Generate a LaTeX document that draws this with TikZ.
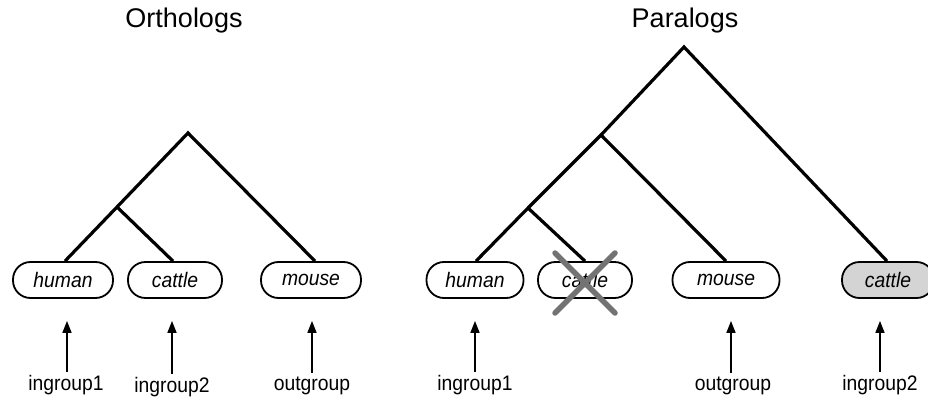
\documentclass[tikz,border=0pt]{standalone}
\usepackage{fontspec}
\setmainfont{Liberation Sans}
\newfontfamily\narrowsans[FakeStretch=0.92]{Liberation Sans}
\usetikzlibrary{arrows.meta}
\begin{document}
\begin{tikzpicture}[x=1pt,y=-1pt,
  branch/.style={line width=3.2pt, line join=miter},
  leaf/.style={draw, line width=1.8pt, rounded corners=17.5pt, minimum height=36pt,
    inner sep=0pt, font=\narrowsans\fontsize{21}{24}\selectfont\itshape},
  grouplabel/.style={font=\narrowsans\fontsize{21}{24}\selectfont, inner sep=0pt, anchor=base},
  heading/.style={font=\fontsize{27}{30}\selectfont, inner sep=0pt, anchor=base},
  pointer/.style={line width=1.6pt, -{Triangle[length=12pt,width=9pt]},
    shorten <=3pt, shorten >=22pt},
  strike/.style={line width=5.5pt, draw=black!55, line cap=round}]
\useasboundingbox (0,0) rectangle (928,401);

% headings
\node[heading] (tO) at (184,28) {Orthologs};
\node[heading] (tP) at (685,28) {Paralogs};

% ---- orthologs tree ----
\node[leaf, minimum width=100pt] (h1) at (63,280) {human};
\node[leaf, minimum width=94pt]  (c1) at (175,280) {cattle};
\node[leaf, minimum width=100pt] (m1) at (311,280) {mouse};
\coordinate (a1) at (188,133);
\coordinate (b1) at (117,207);
\draw[branch] ([xshift=2pt]h1.north) -- (b1) -- (a1) -- ([xshift=4pt]m1.north);
\draw[branch] (b1) -- ([xshift=-2pt]c1.north);

% ---- paralogs tree ----
\node[leaf, minimum width=97pt]  (h2) at (475,280) {human};
\node[leaf, minimum width=94pt]  (c2) at (585,280) {cattle};
\node[leaf, minimum width=107pt] (m2) at (726,280) {mouse};
\node[leaf, fill=black!17, minimum width=92pt] (c3) at (888,280) {cattle};
\coordinate (a2) at (684,47);
\coordinate (p2) at (601,135);
\coordinate (b2) at (528,208);
\draw[branch] ([xshift=1pt]h2.north) -- (b2) -- (p2) -- (a2) -- ([xshift=-1pt]c3.north);
\draw[branch] (b2) -- (c2.north);
\draw[branch] (p2) -- (m2.north);

% lost copy
\draw[strike] ([shift={(-30,-27)}]c2.center) -- ([shift={(30,33)}]c2.center);
\draw[strike] ([shift={(30,-27)}]c2.center) -- ([shift={(-30,33)}]c2.center);

% group labels and pointers
\node[grouplabel] (g1) at (66,390)  {ingroup1};
\node[grouplabel] (g2) at (172,392) {ingroup2};
\node[grouplabel] (o1) at (312,390) {outgroup};
\node[grouplabel] (g3) at (475,390) {ingroup1};
\node[grouplabel] (o2) at (733,390) {outgroup};
\node[grouplabel] (g4) at (880,390) {ingroup2};

\draw[pointer] ([xshift=1pt]g1.north) -- ([xshift=1pt]g1.north |- h1.south);
\draw[pointer] (g2.north) -- (g2.north |- c1.south);
\draw[pointer] (o1.north) -- (o1.north |- m1.south);
\draw[pointer] (g3.north) -- (g3.north |- h2.south);
\draw[pointer] ([xshift=-2pt]o2.north) -- ([xshift=-2pt]o2.north |- m2.south);
\draw[pointer] (g4.north) -- (g4.north |- c3.south);
\end{tikzpicture}
\end{document}
